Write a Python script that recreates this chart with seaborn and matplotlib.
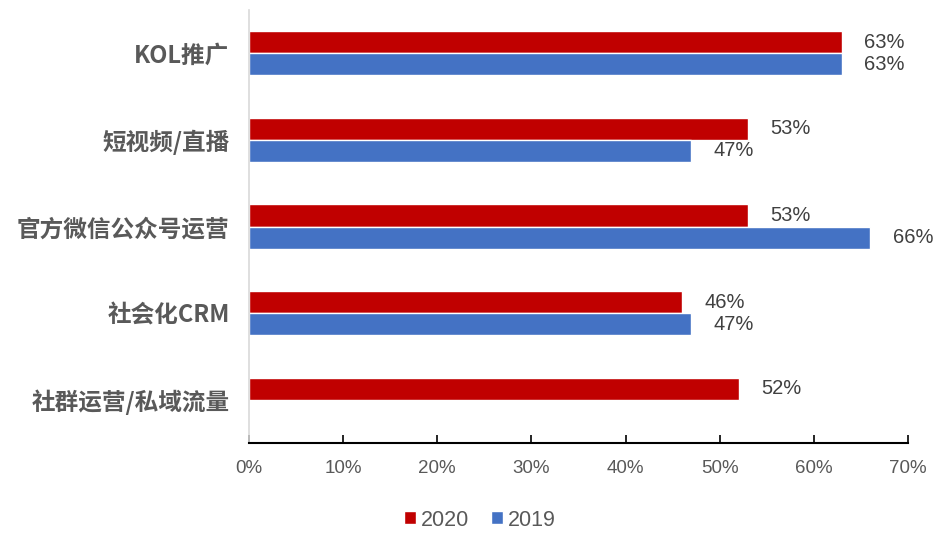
import numpy as np
import pandas as pd
import matplotlib
matplotlib.use("Agg")
import matplotlib.pyplot as plt
import seaborn as sns
from matplotlib.ticker import FuncFormatter

categories = ["KOL推广", "短视频/直播", "官方微信公众号运营", "社会化CRM", "社群运营/私域流量"]
values_2020 = [63, 53, 53, 46, 52]
values_2019 = [63, 47, 66, 47, np.nan]
years = ["2020", "2019"]
colors = ["#C00000", "#4472C4"]
xticks = [0, 10, 20, 30, 40, 50, 60, 70]

df = pd.DataFrame({
    "category": categories * 2,
    "value": values_2020 + values_2019,
    "year": [years[0]] * len(categories) + [years[1]] * len(categories),
})

sns.set_theme(style="white")
plt.rcParams["font.family"] = ["Noto Sans CJK SC", "DejaVu Sans"]
text_color = "#595959"
num_family = ["Liberation Sans", "Noto Sans CJK SC", "DejaVu Sans"]

fig = plt.figure(figsize=(9.36, 5.34), dpi=100)
ax = fig.add_axes([249 / 936, 1 - 443 / 534, (908 - 249) / 936, (443 - 10) / 534])

sns.barplot(data=df, y="category", x="value", hue="year", hue_order=years,
            order=categories, palette=colors, width=0.51, orient="h",
            saturation=1, ax=ax, legend=True)

for cont in ax.containers:
    ax.bar_label(cont, fmt="{:.0f}%", padding=16, fontsize=14.5,
                 color="#404040", family=num_family)

ax.set_xlim(0, 70)
ax.set_xticks(xticks)
ax.xaxis.set_major_formatter(FuncFormatter(lambda v, p: f"{v:.0f}%"))
ax.set_xlabel("")
ax.set_ylabel("")
ax.set_ylim(4.5, -0.5)

ax.tick_params(axis="x", direction="in", length=6, width=1.2, colors="black",
               labelcolor=text_color, labelsize=13.5, pad=12, bottom=True)
for lbl in ax.get_xticklabels():
    lbl.set_family(num_family)
ax.tick_params(axis="y", length=0, pad=14, labelcolor=text_color, labelsize=17)
for lbl in ax.get_yticklabels():
    lbl.set_fontweight("bold")

for s in ["top", "right"]:
    ax.spines[s].set_visible(False)
ax.spines["left"].set_color("#D9D9D9")
ax.spines["left"].set_linewidth(1.2)
ax.spines["bottom"].set_color("black")
ax.spines["bottom"].set_linewidth(1.5)
ax.grid(False)

leg = ax.legend(loc="center", bbox_to_anchor=(480 / 936, 1 - 520 / 534),
                bbox_transform=fig.transFigure, ncol=2, frameon=False,
                prop={"family": ["Liberation Sans", "DejaVu Sans"], "size": 15.5},
                handlelength=0.55, handleheight=0.55,
                handletextpad=0.25, columnspacing=1.0)
for t in leg.get_texts():
    t.set_color(text_color)

fig.savefig("out.png", dpi=100)
